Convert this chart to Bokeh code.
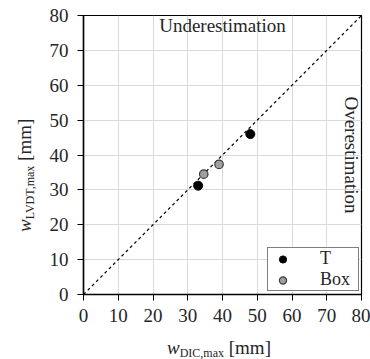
from bokeh.plotting import figure
from bokeh.models import Label, Legend, LegendItem, Range1d, FixedTicker, Div
from bokeh.layouts import row, column
from bokeh.embed import file_html
from bokeh.resources import INLINE
import math

# data
t_x = [48, 33]
t_y = [46, 31.2]
box_x = [34.6, 39]
box_y = [34.5, 37.3]
ref_line = [0, 80]
ticks = [0, 10, 20, 30, 40, 50, 60, 70, 80]
x_label_main, x_label_sub, unit = "w", "DIC,max", "[mm]"
y_label_main, y_label_sub = "w", "LVDT,max"

FONT = "Liberation Serif"
TXT = "#262626"

p = figure(width=330, height=335, output_backend="svg", toolbar_location=None,
           x_range=Range1d(0, 80), y_range=Range1d(0, 80),
           min_border_left=43, min_border_right=9, min_border_top=15, min_border_bottom=41)
p.frame_width = 278
p.frame_height = 279

p.background_fill_color = "white"
p.border_fill_color = "white"
p.outline_line_color = "black"
p.outline_line_width = 1.2

for ax in (p.xaxis[0], p.yaxis[0]):
    ax.ticker = FixedTicker(ticks=ticks)
    ax.axis_line_color = "black"
    ax.axis_line_width = 1.5
    ax.major_tick_line_color = "black"
    ax.major_tick_out = 6
    ax.major_tick_in = 0
    ax.minor_tick_line_color = None
    ax.major_label_text_font = FONT
    ax.major_label_text_font_size = "19px"
    ax.major_label_text_color = TXT
p.yaxis[0].major_label_standoff = 9
p.xaxis[0].major_label_standoff = 8

p.grid.grid_line_color = "#d9d9d9"
p.grid.grid_line_width = 1
for g in p.grid:
    g.ticker = FixedTicker(ticks=ticks)

p.line(ref_line, ref_line, line_color="black", line_width=1.2, line_dash="3 3")

r_t = p.scatter(t_x, t_y, size=9, fill_color="black", line_color="black")
r_b = p.scatter(box_x, box_y, size=8.5, fill_color="#a0a0a0", line_color="#3a3a3a", line_width=1.2)

legend = Legend(items=[LegendItem(label="T", renderers=[r_t]),
                       LegendItem(label="Box", renderers=[r_b])],
                location=(184, 3), padding=0, spacing=0,
                glyph_width=29, glyph_height=18, label_height=18, label_width=38,
                label_standoff=23,
                label_text_font=FONT, label_text_font_size="18px", label_text_color=TXT,
                border_line_color="black", border_line_width=1.2,
                background_fill_color="white", background_fill_alpha=1,
                margin=0)
p.add_layout(legend)

p.add_layout(Label(x=40, y=80, y_offset=1, text="Underestimation", text_align="center",
                   text_baseline="top", text_font=FONT, text_font_size="19px",
                   text_color=TXT))
p.add_layout(Label(x=80, y=40, x_offset=0, text="Overestimation", text_align="center",
                   text_baseline="top", angle=-math.pi / 2, text_font=FONT,
                   text_font_size="19px", text_color=TXT))

base_style = f"font-family:'{FONT}'; font-size:19px; line-height:19px; color:{TXT}; white-space:nowrap;"
sub_style = "font-size:12px; vertical-align:-3px;"

ydiv = Div(width=40, height=335, margin=0,
           text=(f'<span style="display:inline-block; transform-origin:0 0; '
                 f'transform: translate(15px, 232px) rotate(-90deg); {base_style}">'
                 f'<i>{y_label_main}</i><span style="{sub_style}">{y_label_sub}</span> {unit}</span>'))

xdiv = Div(width=370, height=24, margin=0,
           text=(f'<div style="width:278px; margin-left:80px; padding-top:3px; text-align:center; {base_style}">'
                 f'<i>{x_label_main}</i><span style="{sub_style}">{x_label_sub}</span> {unit}</div>'))

layout = column(row(ydiv, p, spacing=0), xdiv, spacing=0)

open("out.html", "w").write(file_html(layout, INLINE))
